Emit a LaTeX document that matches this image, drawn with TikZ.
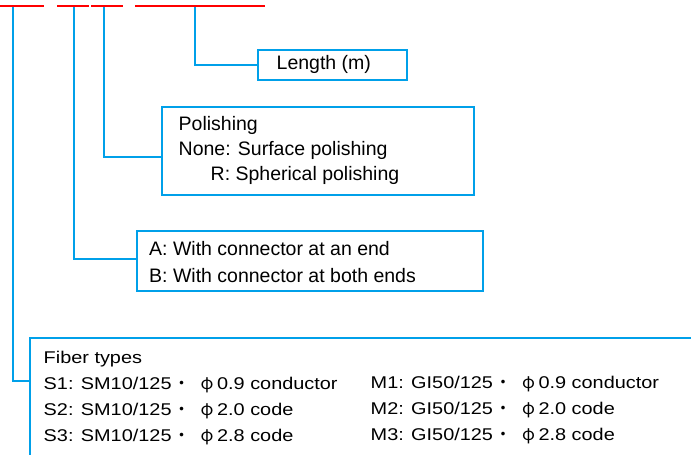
\documentclass[tikz,border=0pt]{standalone}
\usepackage{fontspec}
\setmainfont{Liberation Sans}
\newfontfamily\lowfont[FakeStretch=1.17]{Liberation Sans}
\newfontfamily\cjkfont{Noto Sans CJK JP}
\definecolor{lineblue}{RGB}{0,160,233}
\definecolor{linered}{RGB}{255,0,0}
\newcommand{\dotphi}{\makebox[20pt]{\cjkfont ・} \makebox[20pt]{\cjkfont φ}}
\tikzset{
  conn/.style={draw=lineblue, line width=2pt},
  redline/.style={draw=linered, line width=1.8pt},
  box/.style={draw=lineblue, line width=2pt, rectangle, inner sep=0pt, anchor=north west},
  uptext/.style={anchor=base west, inner sep=0pt, font=\fontsize{19.5pt}{23pt}\selectfont},
  lowtext/.style={anchor=base west, inner sep=0pt, font=\lowfont\fontsize{17pt}{20pt}\selectfont},
}
\begin{document}
\begin{tikzpicture}[x=1pt,y=-1pt]
\useasboundingbox (0,0) rectangle (691,455);
% red underlines at top
\draw[redline] (0,6) -- (44,6);
\draw[redline] (57,6) -- (89,6);
\draw[redline] (91,6) -- (123,6);
\draw[redline] (135,6) -- (265,6);
% connector starting points
\coordinate (t1) at (13,7);
\coordinate (t2) at (74,7);
\coordinate (t3) at (104,7);
\coordinate (t4) at (195,7);
% boxes
\node[box, minimum width=149pt, minimum height=30pt] (len) at (257,49) {};
\node[box, minimum width=312pt, minimum height=88pt] (pol) at (161,106) {};
\node[box, minimum width=346pt, minimum height=60pt] (con) at (136,230) {};
\node[anchor=north west, inner sep=0pt, minimum width=661pt, minimum height=117pt] (fib) at (30,338) {};
\draw[conn] (fib.north east) -- (fib.north west) -- (fib.south west);
% connectors
\draw[conn] (t4) |- (len.west);
\draw[conn] (t3) |- ([yshift=-6pt]pol.west);
\draw[conn] (t2) |- ([yshift=2pt]con.west);
\draw[conn] (t1) |- ([yshift=-43pt]fib.north west);
% texts
\node[uptext] (lenT) at (276.5,69.5) {Length (m)};
\node[uptext] (polT1) at (178.5,130) {Polishing};
\node[uptext] (polT2) at (178.5,155) {None: Surface polishing};
\node[uptext] (polT3) at (210.5,180) {R: Spherical polishing};
\node[uptext] (conT1) at (149,255.5) {A: With connector at an end};
\node[uptext] (conT2) at (149,282) {B: With connector at both ends};
\node[lowtext] (fibT0) at (43.5,363.3) {Fiber types};
\node[lowtext] (fibS1) at (43.5,389.5) {S1: SM10/125\dotphi 0.9 conductor};
\node[lowtext] (fibS2) at (43.5,415.5) {S2: SM10/125\dotphi 2.0 code};
\node[lowtext] (fibS3) at (43.5,441.5) {S3: SM10/125\dotphi 2.8 code};
\node[lowtext] (fibM1) at (370.5,388) {M1: GI50/125\dotphi 0.9 conductor};
\node[lowtext] (fibM2) at (370.5,414.5) {M2: GI50/125\dotphi 2.0 code};
\node[lowtext] (fibM3) at (370.5,440.5) {M3: GI50/125\dotphi 2.8 code};
\end{tikzpicture}
\end{document}
